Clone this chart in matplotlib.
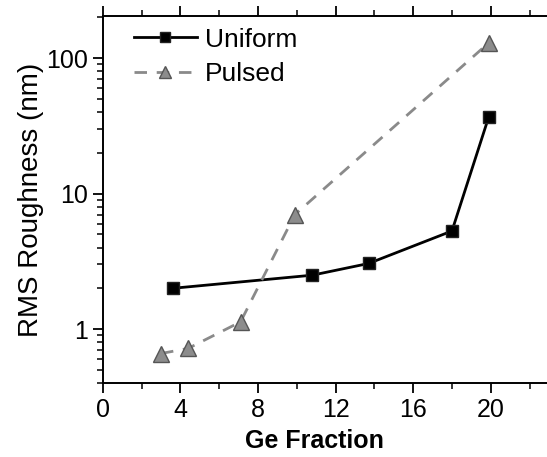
import matplotlib
matplotlib.use("Agg")
import matplotlib.pyplot as plt
from matplotlib.ticker import MultipleLocator, LogLocator, NullFormatter, FixedLocator

plt.rcParams['font.family'] = ['Liberation Sans', 'DejaVu Sans']

# Ge fraction vs RMS roughness
uniform_x = [3.6, 10.8, 13.7, 18.0, 19.9]
uniform_y = [2.0, 2.5, 3.05, 5.3, 37.0]
pulsed_x = [3.0, 4.4, 7.1, 9.9, 19.9]
pulsed_y = [0.66, 0.72, 1.13, 7.0, 130.0]

x_ticks = [0, 4, 8, 12, 16, 20]
y_ticks = [1, 10, 100]
y_tick_labels = ["1", "10", "100"]

fig = plt.figure(figsize=(5.47, 4.57), dpi=100)
ax = fig.add_axes([0.188, 0.162, 0.812, 0.803])

ax.plot(uniform_x, uniform_y, color='black', lw=2.0, marker='s', ms=8.8,
        mfc='black', mec='#222222', label='Uniform', zorder=3)
ax.plot(pulsed_x, pulsed_y, color='#8a8a8a', lw=2.0, ls=(0, (4.5, 3.5)),
        marker='^', ms=11, mfc='#8c8c8c', mec='#555555', label='Pulsed', zorder=3)

ax.set_yscale('log')
ax.set_xlim(0, 22.9)
ax.set_ylim(0.4, 205)

ax.xaxis.set_major_locator(FixedLocator(x_ticks))
ax.xaxis.set_minor_locator(MultipleLocator(2))
ax.yaxis.set_major_locator(FixedLocator(y_ticks))
ax.set_yticklabels(y_tick_labels)
ax.yaxis.set_minor_locator(LogLocator(base=10, subs=range(2, 10)))
ax.yaxis.set_minor_formatter(NullFormatter())

ax.tick_params(axis='both', which='major', direction='out', length=7, width=1.3,
               labelsize=18, colors='black')
ax.tick_params(axis='both', which='minor', direction='out', length=4, width=1.1)
ax.tick_params(axis='x', which='both', top=True)
ax.tick_params(axis='y', which='both', right=False)

for side in ['left', 'bottom', 'top']:
    ax.spines[side].set_linewidth(1.4)
ax.spines['right'].set_visible(False)

ax.set_xlabel('Ge Fraction', fontsize=18, fontweight='bold')
ax.xaxis.set_label_coords(0.477, -0.125)
ax.set_ylabel('RMS Roughness (nm)', fontsize=20, labelpad=2)

leg = ax.legend(loc='upper left', frameon=False, fontsize=19,
                handlelength=2.4, handletextpad=0.3, labelspacing=0.4,
                borderaxespad=0.0, bbox_to_anchor=(0.046, 0.997),
                markerscale=0.85)

fig.savefig('out.png', dpi=100)
